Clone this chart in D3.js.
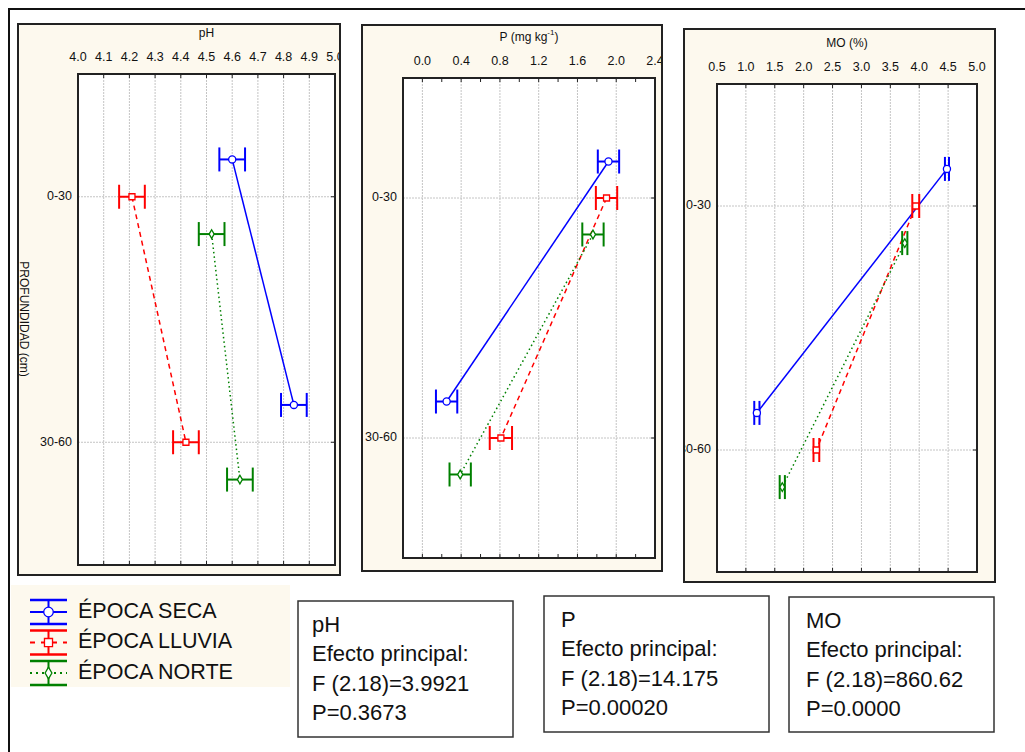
<!DOCTYPE html>
<html>
<head>
<meta charset="utf-8">
<script src="https://cdn.jsdelivr.net/npm/d3@7"></script>
<style>
    body { margin: 0; background: #fff; }
    svg text { font-family: Arial, "Liberation Sans", sans-serif; fill: #111; }
</style>
</head>
<body>
<div id="chart"></div>
<script>

// depth categories and seasons
const categories = ["0-30", "30-60"];
const seasons = ["ÉPOCA SECA", "ÉPOCA LLUVIA", "ÉPOCA NORTE"];

// pH means (per depth) and error half-widths
const phSeca = [4.60, 4.84];
const phLluvia = [4.21, 4.42];
const phNorte = [4.52, 4.63];
const phErr = [[0.05, 0.05], [0.05, 0.05], [0.05, 0.05]];
const phTicks = [4.0, 4.1, 4.2, 4.3, 4.4, 4.5, 4.6, 4.7, 4.8, 4.9, 5.0];

// P (mg kg-1)
const pSeca = [1.92, 0.25];
const pLluvia = [1.90, 0.81];
const pNorte = [1.76, 0.39];
const pErr = [[0.11, 0.11], [0.11, 0.115], [0.11, 0.11]];
const pTicks = [0.0, 0.4, 0.8, 1.2, 1.6, 2.0, 2.4];
const pMinorTicks = [-0.2, 0.2, 0.6, 1.0, 1.4, 1.8, 2.2];

// MO (%)
const moSeca = [4.48, 1.19];
const moLluvia = [3.94, 2.22];
const moNorte = [3.75, 1.63];
const moErr = [[0.035, 0.045], [0.06, 0.05], [0.045, 0.045]];
const moTicks = [0.5, 1.0, 1.5, 2.0, 2.5, 3.0, 3.5, 4.0, 4.5, 5.0];

// stats boxes
const statTitles = ["pH", "P", "MO"];
const statF = ["F (2.18)=3.9921", "F (2.18)=14.175", "F (2.18)=860.62"];
const statP = ["P=0.3673", "P=0.00020", "P=0.0000"];

const colors = ["#0000ff", "#ff0000", "#008000"];
const dashes = [null, "5,4", "1.5,3"];
const symbols = [d3.symbolCircle, d3.symbolSquare, d3.symbolDiamond];
const symSize = [40, 36, 22];

const svg = d3.select("#chart").append("svg")
    .attr("width", 1025)
    .attr("height", 752);

// outer border (runs off page on the right / bottom)
svg.append("rect")
    .attr("x", 9).attr("y", 9)
    .attr("width", 1040).attr("height", 780)
    .attr("fill", "none")
    .attr("stroke", "#111")
    .attr("stroke-width", 2);

class DepthPanel {
    constructor(_id, _frame, _plot, _title, _domain, _ticks, _minor, _series, _err, _ylabel) {
        this.id = _id;
        this.frame = _frame;
        this.plot = _plot;
        this.title = _title;
        this.domain = _domain;
        this.ticks = _ticks;
        this.minor = _minor;
        this.series = _series;
        this.err = _err;
        this.ylabel = _ylabel;
        this.initVis();
    }

    initVis() {
        let vis = this;
        let f = vis.frame, p = vis.plot;

        svg.append("defs").append("clipPath")
            .attr("id", "clip" + vis.id)
            .append("rect")
            .attr("x", f.x).attr("y", f.y)
            .attr("width", f.w).attr("height", f.h);

        vis.g = svg.append("g").attr("clip-path", "url(#clip" + vis.id + ")");

        // frame
        vis.g.append("rect")
            .attr("x", f.x).attr("y", f.y)
            .attr("width", f.w).attr("height", f.h)
            .attr("fill", "#fdf9ee");

        vis.x = d3.scaleLinear().domain(vis.domain).range([p.x, p.x + p.w]);
        vis.y = d3.scalePoint().domain(categories).range([p.y, p.y + p.h]).padding(0.5);
        vis.off = d3.scalePoint().domain(seasons).range([-vis.y.step() * 0.152, vis.y.step() * 0.152]);

        vis.g.append("rect")
            .attr("x", p.x).attr("y", p.y)
            .attr("width", p.w).attr("height", p.h)
            .attr("fill", "#fff");

        // grid
        vis.g.selectAll(".vgrid").data(vis.ticks).enter().append("line")
            .attr("x1", d => vis.x(d)).attr("x2", d => vis.x(d))
            .attr("y1", p.y).attr("y2", p.y + p.h)
            .attr("stroke", "#c4c4c4").attr("stroke-dasharray", "2,1");
        vis.g.selectAll(".hgrid").data(categories).enter().append("line")
            .attr("x1", p.x).attr("x2", p.x + p.w)
            .attr("y1", d => vis.y(d)).attr("y2", d => vis.y(d))
            .attr("stroke", "#c4c4c4").attr("stroke-dasharray", "2,1");

        // inside tick marks
        let allTicks = vis.ticks.concat(vis.minor);
        vis.g.selectAll(".tb").data(allTicks).enter().append("line")
            .attr("x1", d => vis.x(d)).attr("x2", d => vis.x(d))
            .attr("y1", p.y + p.h).attr("y2", p.y + p.h - 4)
            .attr("stroke", "#222").attr("stroke-width", 1);
        vis.g.selectAll(".tt").data(allTicks).enter().append("line")
            .attr("x1", d => vis.x(d)).attr("x2", d => vis.x(d))
            .attr("y1", p.y).attr("y2", p.y + 4)
            .attr("stroke", "#222").attr("stroke-width", 1);
        vis.g.selectAll(".tr").data(categories).enter().append("line")
            .attr("x1", p.x + p.w).attr("x2", p.x + p.w - 4)
            .attr("y1", d => vis.y(d)).attr("y2", d => vis.y(d))
            .attr("stroke", "#222");

        // tick labels
        vis.g.selectAll(".xl").data(vis.ticks).enter().append("text")
            .attr("x", d => vis.x(d))
            .attr("y", p.y - 16)
            .attr("text-anchor", "middle")
            .attr("dominant-baseline", "middle")
            .style("font-size", "12.5px")
            .text(d => d.toFixed(1));
        vis.g.selectAll(".yl").data(categories).enter().append("text")
            .attr("x", p.x - 6)
            .attr("y", d => vis.y(d))
            .attr("text-anchor", "end")
            .attr("dominant-baseline", "middle")
            .style("font-size", "12.5px")
            .text(d => d);

        // title
        let t = vis.g.append("text")
            .attr("x", p.x + p.w / 2)
            .attr("y", p.y - 40)
            .attr("text-anchor", "middle")
            .attr("dominant-baseline", "middle")
            .style("font-size", "12px");
        vis.title(t);

        if (vis.ylabel) {
            vis.g.append("text")
                .attr("transform", "translate(" + (f.x + 5) + "," + 319 + ") rotate(90)")
                .attr("text-anchor", "middle")
                .attr("dominant-baseline", "middle")
                .style("font-size", "12px")
                .text(vis.ylabel);
        }

        // series
        let line = d3.line().x(d => vis.x(d.v)).y(d => d.y);
        vis.series.forEach(function(vals, si) {
            let pts = vals.map((v, i) => ({v: v, y: vis.y(categories[i]) + vis.off(seasons[si]), e: vis.err[si][i]}));
            let sg = vis.g.append("g");
            sg.append("path")
                .datum(pts)
                .attr("d", line)
                .attr("fill", "none")
                .attr("stroke", colors[si])
                .attr("stroke-width", 1.5)
                .attr("stroke-dasharray", dashes[si]);
            pts.forEach(function(d) {
                let x0 = vis.x(d.v - d.e), x1 = vis.x(d.v + d.e);
                sg.append("line").attr("x1", x0).attr("x2", x1).attr("y1", d.y).attr("y2", d.y)
                    .attr("stroke", colors[si]).attr("stroke-width", 2);
                [x0, x1].forEach(function(xx) {
                    sg.append("line").attr("x1", xx).attr("x2", xx).attr("y1", d.y - 12).attr("y2", d.y + 12)
                        .attr("stroke", colors[si]).attr("stroke-width", 2);
                });
                sg.append("path")
                    .attr("d", d3.symbol().type(symbols[si]).size(symSize[si])())
                    .attr("transform", "translate(" + vis.x(d.v) + "," + d.y + ")")
                    .attr("fill", "#fff")
                    .attr("stroke", colors[si])
                    .attr("stroke-width", 1.3);
            });
        });

        // borders
        vis.g.append("rect")
            .attr("x", p.x).attr("y", p.y)
            .attr("width", p.w).attr("height", p.h)
            .attr("fill", "none").attr("stroke", "#222").attr("stroke-width", 2);
        svg.append("rect")
            .attr("x", f.x).attr("y", f.y)
            .attr("width", f.w).attr("height", f.h)
            .attr("fill", "none").attr("stroke", "#222").attr("stroke-width", 2);
    }
}

new DepthPanel("ph", {x: 18, y: 24, w: 322, h: 551}, {x: 78, y: 74, w: 257, h: 491},
    t => t.text("pH"), [4.0, 5.0], phTicks, [], [phSeca, phLluvia, phNorte], phErr, "PROFUNDIDAD (cm)");

new DepthPanel("p", {x: 362, y: 25, w: 300, h: 546}, {x: 403, y: 78, w: 252, h: 480},
    function(t) {
        t.append("tspan").text("P (mg kg");
        t.append("tspan").attr("dy", -5).style("font-size", "8px").text("-1");
        t.append("tspan").attr("dy", 5).text(")");
    }, [-0.2, 2.4], pTicks, pMinorTicks, [pSeca, pLluvia, pNorte], pErr, null);

new DepthPanel("mo", {x: 684, y: 29, w: 311, h: 553}, {x: 717, y: 84, w: 260, h: 488},
    t => t.text("MO (%)"), [0.5, 5.0], moTicks, [], [moSeca, moLluvia, moNorte], moErr, null);

// legend
const legend = svg.append("g");
legend.append("rect")
    .attr("x", 11).attr("y", 585).attr("width", 279).attr("height", 102)
    .attr("fill", "#fdf9ee");
const ly = d3.scalePoint().domain(seasons).range([612, 673]);
seasons.forEach(function(s, si) {
    let cy = ly(s), lg = legend.append("g");
    [cy - 12, cy + 12].forEach(function(yy) {
        lg.append("line").attr("x1", 30).attr("x2", 67).attr("y1", yy).attr("y2", yy)
            .attr("stroke", colors[si]).attr("stroke-width", 2.5);
    });
    lg.append("line").attr("x1", 48.5).attr("x2", 48.5).attr("y1", cy - 12).attr("y2", cy + 12)
        .attr("stroke", colors[si]).attr("stroke-width", 2);
    lg.append("line").attr("x1", 30).attr("x2", 67).attr("y1", cy).attr("y2", cy)
        .attr("stroke", colors[si]).attr("stroke-width", 2)
        .attr("stroke-dasharray", si === 0 ? null : (si === 1 ? "5,6" : "2,4"));
    lg.append("path")
        .attr("d", d3.symbol().type(symbols[si]).size(symSize[si] * 1.8)())
        .attr("transform", "translate(48.5," + cy + ")")
        .attr("fill", "#fff").attr("stroke", colors[si]).attr("stroke-width", 1.3);
    lg.append("text")
        .attr("x", 78).attr("y", cy)
        .attr("dominant-baseline", "middle")
        .style("font-size", "21.5px")
        .text(s);
});

// stats boxes
const boxes = [
    {x: 298, y: 601, w: 215, h: 136, tx: 14},
    {x: 544, y: 596, w: 225, h: 136, tx: 17},
    {x: 789, y: 597, w: 205, h: 135, tx: 17}
];
boxes.forEach(function(b, i) {
    svg.append("rect")
        .attr("x", b.x).attr("y", b.y).attr("width", b.w).attr("height", b.h)
        .attr("fill", "#fff").attr("stroke", "#333").attr("stroke-width", 1.5);
    let lines = [statTitles[i], "Efecto principal:", statF[i], statP[i]];
    svg.selectAll(".st" + i).data(lines).enter().append("text")
        .attr("x", b.x + b.tx)
        .attr("y", (d, j) => b.y + 25 + j * 29.5)
        .attr("dominant-baseline", "middle")
        .style("font-size", "22px")
        .text(d => d);
});

</script>
</body>
</html>
